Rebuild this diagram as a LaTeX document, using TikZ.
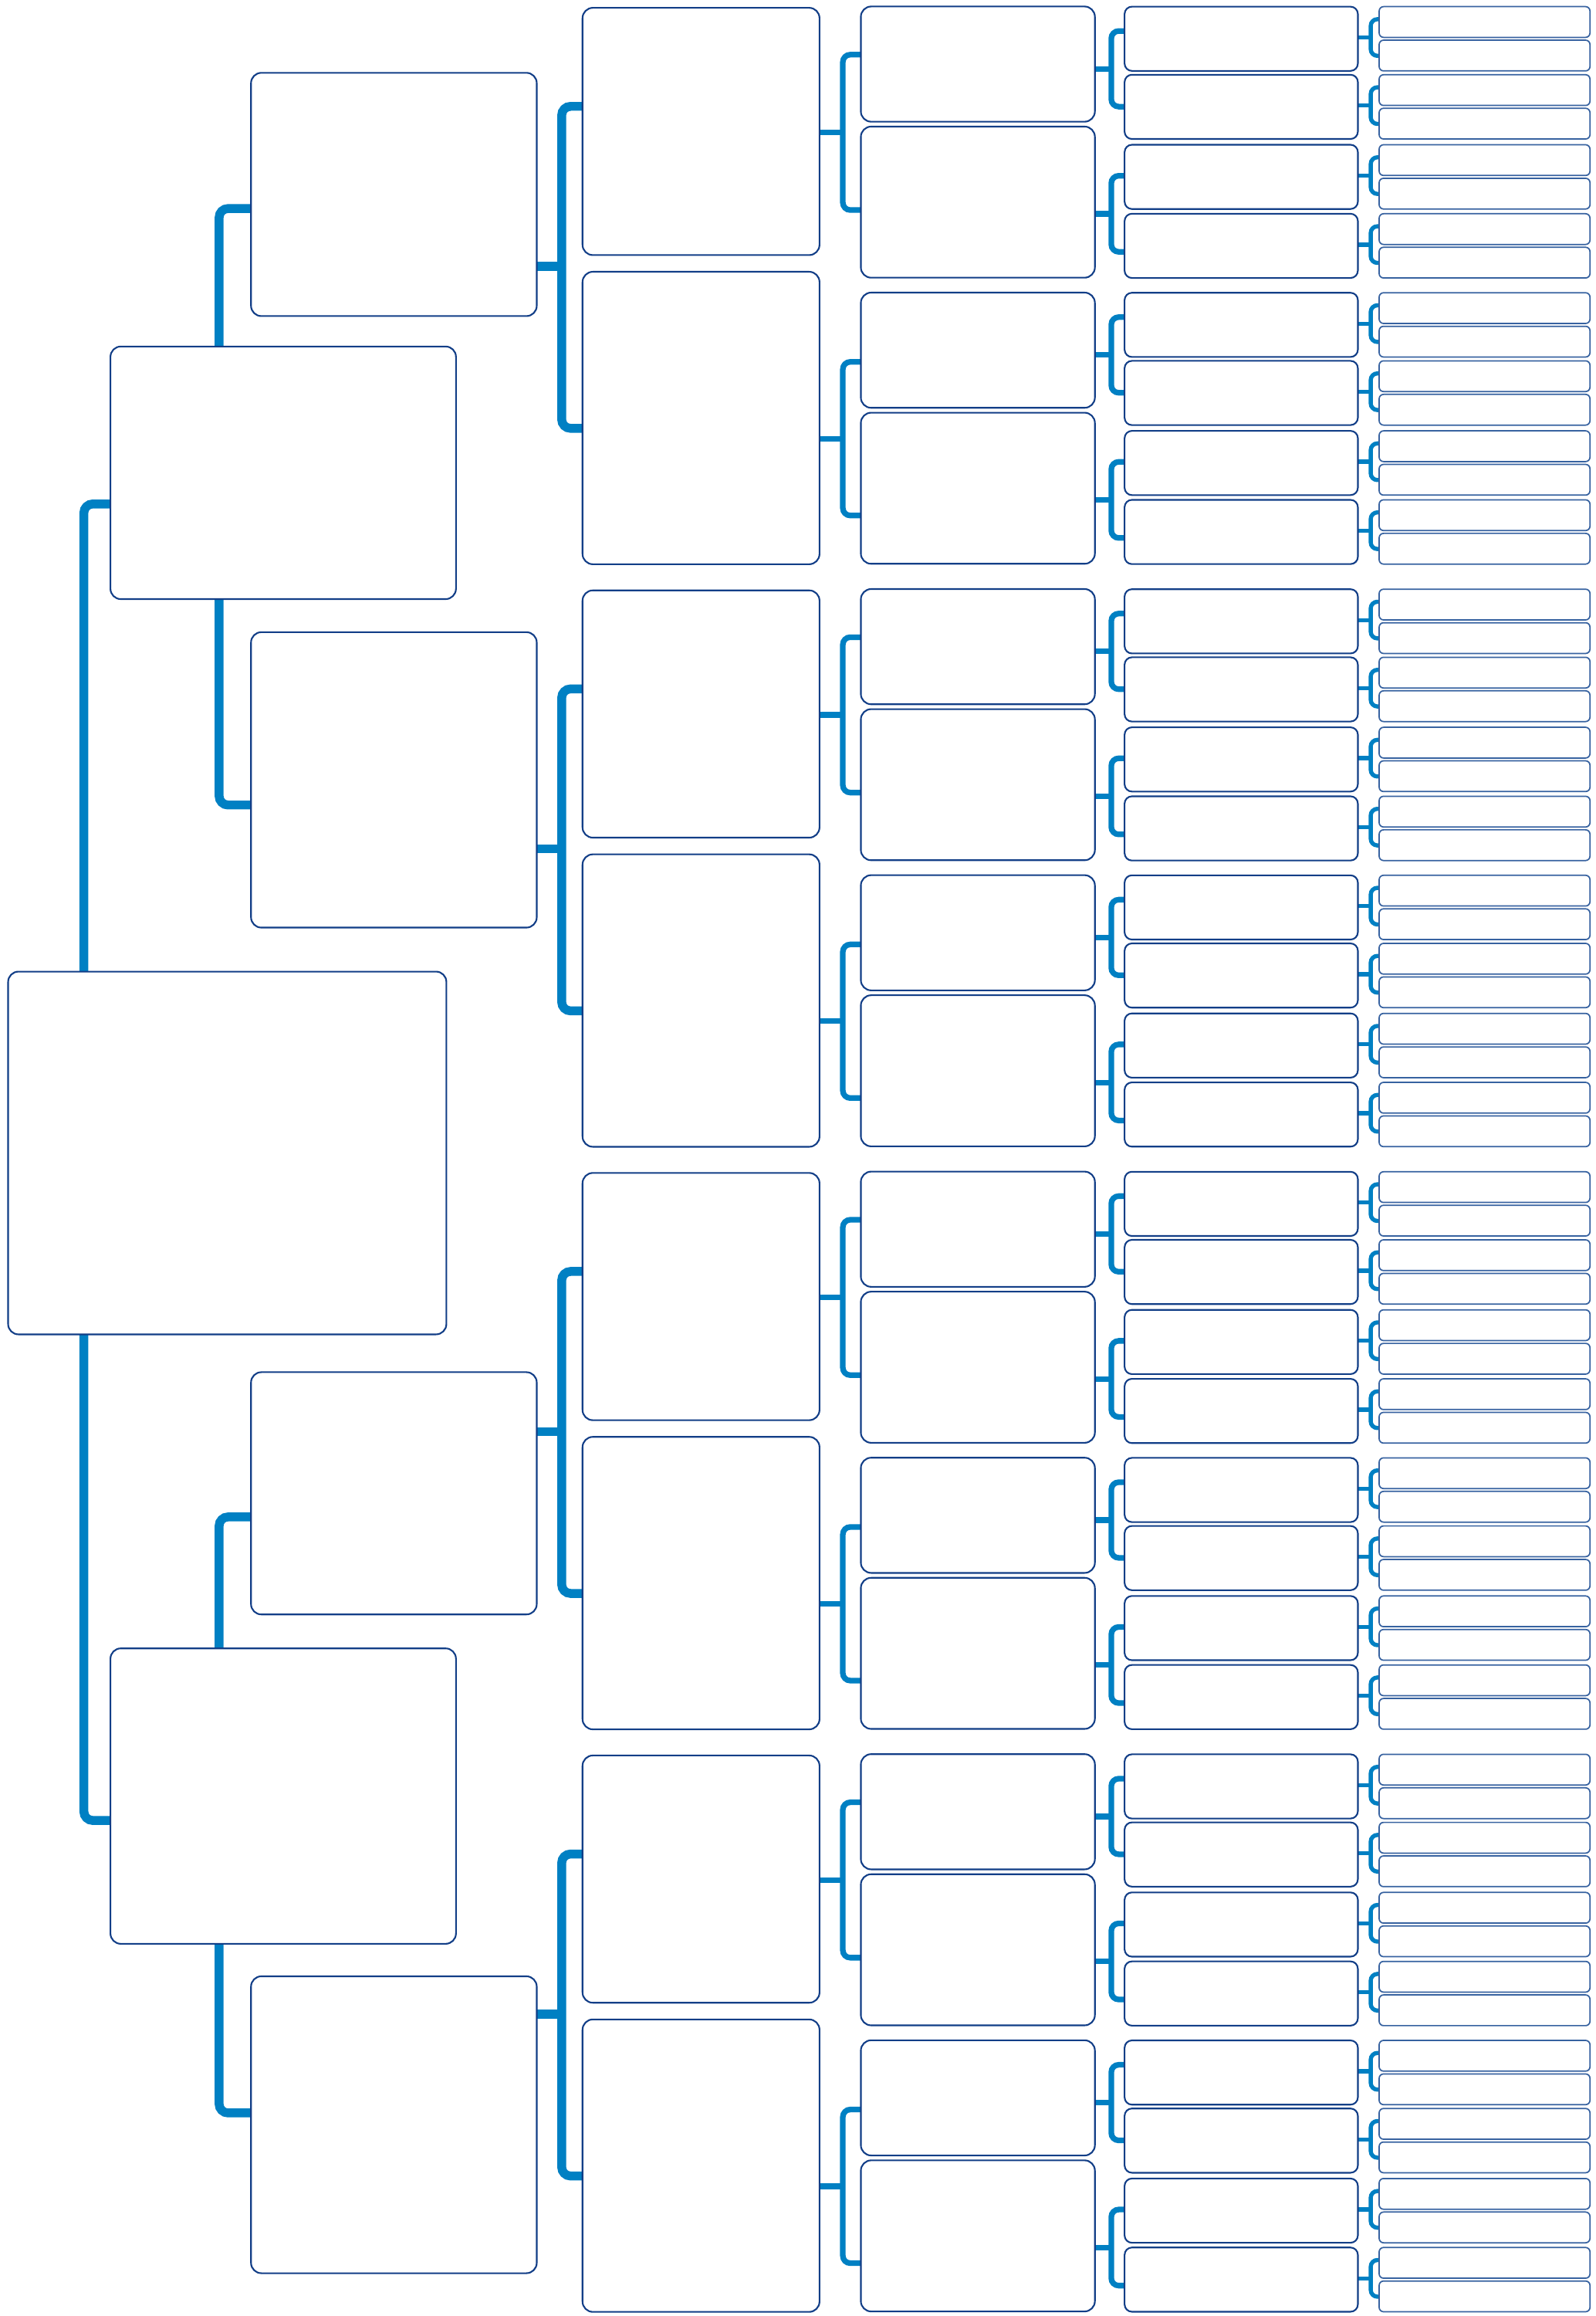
\documentclass[tikz,border=0pt]{standalone}
\definecolor{bord}{RGB}{18,62,135}
\definecolor{bordl}{RGB}{55,98,160}
\definecolor{conn}{RGB}{0,128,195}
\pgfdeclarelayer{bg}
\pgfsetlayers{bg,main}
\tikzset{
 bxA/.style={draw=bord, fill=white, line width=1.1pt, rounded corners=7pt, inner sep=0pt, outer sep=0pt, anchor=north west},
 bxB/.style={bxA, rounded corners=5pt},
 bxC/.style={draw=bordl, fill=white, line width=0.9pt, rounded corners=3pt, inner sep=0pt, outer sep=0pt, anchor=north west},
 cnA/.style={draw=conn, line width=6pt, rounded corners=6pt},
 cnB/.style={draw=conn, line width=3.8pt, rounded corners=5pt},
 cnC/.style={draw=conn, line width=2.8pt, rounded corners=4.5pt},
}
\newcommand{\mybox}[6]{%
  \pgfmathsetmacro\bw{#5-#3}\pgfmathsetmacro\bh{#6-#4}%
  \node[#2, minimum width=\bw pt, minimum height=\bh pt] (#1) at (#3,#4) {};}
\begin{document}
\begin{tikzpicture}[x=1pt,y=-1pt]
\useasboundingbox (0,0) rectangle (1080.87,1568);
% ---------- boxes ----------
\mybox{R}{bxA}{5.5}{657.8}{302.3}{903.4}
\mybox{L1A}{bxA}{74.8}{234.6}{308.8}{405.6}
\mybox{L1B}{bxA}{74.8}{1116}{308.8}{1316}
\mybox{L2-0}{bxA}{170}{49.3}{363.5}{214}
\mybox{L2-1}{bxA}{170}{428}{363.5}{628}
\mybox{L2-2}{bxA}{170}{929}{363.5}{1093}
\mybox{L2-3}{bxA}{170}{1338}{363.5}{1539}
\foreach \g in {0,...,3}{
 \pgfmathsetmacro\G{394.4*\g}
 \foreach \h in {0,1}{
  \ifnum\h=0 \pgfmathsetmacro\ya{\G+5.3}\pgfmathsetmacro\yb{\G+172.7}\else \pgfmathsetmacro\ya{\G+184}\pgfmathsetmacro\yb{\G+382}\fi
  \mybox{L3-\g-\h}{bxA}{394.5}{\ya}{555}{\yb}
  \pgfmathsetmacro\K{\G+193.7*\h}
  \pgfmathsetmacro\ya{\K+4.4}\pgfmathsetmacro\yb{\K+82.4}
  \mybox{L4-\g-\h-0}{bxA}{583}{\ya}{741.5}{\yb}
  \pgfmathsetmacro\ya{\K+85.7}\pgfmathsetmacro\yb{\K+188}
  \mybox{L4-\g-\h-1}{bxA}{583}{\ya}{741.5}{\yb}
  \foreach \j/\off in {0/4.5,1/50.6,2/98,3/144.7}{
    \pgfmathsetmacro\T{\K+\off}
    \pgfmathsetmacro\yb{\T+43.5}
    \mybox{L5-\g-\h-\j}{bxB}{761.6}{\T}{919.6}{\yb}
    \pgfmathsetmacro\yb{\T+20.8}
    \mybox{L6-\g-\h-\j-0}{bxC}{934}{\T}{1076.8}{\yb}
    \pgfmathsetmacro\ya{\T+22.7}\pgfmathsetmacro\yb{\T+43.5}
    \mybox{L6-\g-\h-\j-1}{bxC}{934}{\ya}{1076.8}{\yb}
  }
 }
}
% ---------- connectors ----------
\begin{pgfonlayer}{bg}
\fill[white] (0,0) rectangle (1080.87,1568);
\coordinate (r1) at (56.8,341.2);
\coordinate (r2) at (56.8,1232.5);
\draw[cnA] (L1A.west |- r1) -- (r1) -- (r2) -- (L1B.west |- r2);
\coordinate (a1) at (148.4,141.2);
\coordinate (a2) at (148.4,545);
\draw[cnA] (L2-0.west |- a1) -- (a1) -- (a2) -- (L2-1.west |- a2);
\coordinate (b1) at (148.4,1027);
\coordinate (b2) at (148.4,1430.5);
\draw[cnA] (L2-2.west |- b1) -- (b1) -- (b2) -- (L2-3.west |- b2);
\foreach \g in {0,...,3}{
 \pgfmathsetmacro\G{394.4*\g}
 \pgfmathsetmacro\ym{\G+180.4}\pgfmathsetmacro\ya{\G+72}\pgfmathsetmacro\yb{\G+290}
 \coordinate (m) at (380.4,\ym);
 \coordinate (t1) at (380.4,\ya);
 \coordinate (t2) at (380.4,\yb);
 \draw[cnA] (L2-\g.east |- m) -- (m);
 \draw[cnA] (L3-\g-0.west |- t1) -- (t1) -- (t2) -- (L3-\g-1.west |- t2);
 \foreach \h in {0,1}{
  \ifnum\h=0 \pgfmathsetmacro\ym{\G+89.6}\pgfmathsetmacro\ya{\G+37}\pgfmathsetmacro\yb{\G+142.2}\else \pgfmathsetmacro\ym{\G+297}\pgfmathsetmacro\ya{\G+245}\pgfmathsetmacro\yb{\G+349}\fi
  \coordinate (m) at (570.8,\ym);
  \coordinate (t1) at (570.8,\ya);
  \coordinate (t2) at (570.8,\yb);
  \draw[cnB] (L3-\g-\h.east |- m) -- (m);
  \draw[cnB] (L4-\g-\h-0.west |- t1) -- (t1) -- (t2) -- (L4-\g-\h-1.west |- t2);
  \pgfmathsetmacro\K{\G+193.7*\h}
  \foreach \k/\mo/\ao/\bo/\ja/\jb in {0/46.6/21/72.2/0/1,1/144.8/119/170.5/2/3}{
    \pgfmathsetmacro\ym{\K+\mo}\pgfmathsetmacro\ya{\K+\ao}\pgfmathsetmacro\yb{\K+\bo}
    \coordinate (m) at (752.6,\ym);
    \coordinate (t1) at (752.6,\ya);
    \coordinate (t2) at (752.6,\yb);
    \draw[cnB] (L4-\g-\h-\k.east |- m) -- (m);
    \draw[cnB] (L5-\g-\h-\ja.west |- t1) -- (t1) -- (t2) -- (L5-\g-\h-\jb.west |- t2);
  }
  \foreach \j/\off in {0/4.5,1/50.6,2/98,3/144.7}{
    \pgfmathsetmacro\T{\K+\off}
    \pgfmathsetmacro\ym{\T+20.9}\pgfmathsetmacro\ya{\T+8.5}\pgfmathsetmacro\yb{\T+33.3}
    \coordinate (m) at (928.3,\ym);
    \coordinate (t1) at (928.3,\ya);
    \coordinate (t2) at (928.3,\yb);
    \draw[cnC] (L5-\g-\h-\j.east |- m) -- (m);
    \draw[cnC] (L6-\g-\h-\j-0.west |- t1) -- (t1) -- (t2) -- (L6-\g-\h-\j-1.west |- t2);
  }
 }
}
\end{pgfonlayer}
\end{tikzpicture}
\end{document}
